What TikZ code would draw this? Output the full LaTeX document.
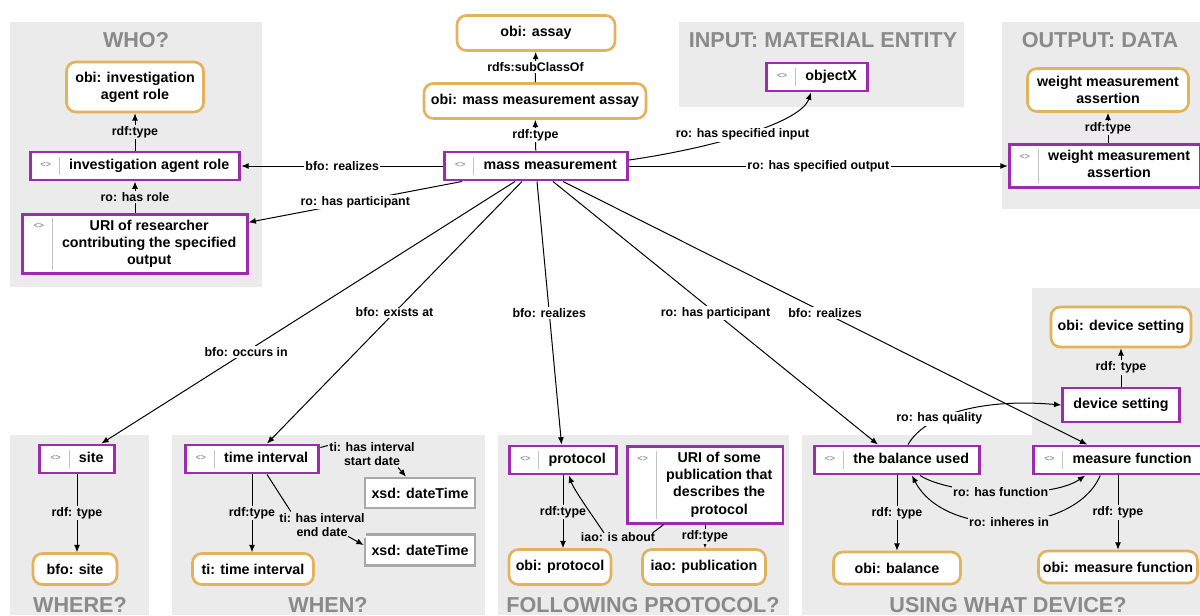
\documentclass[tikz,border=0pt]{standalone}
\usepackage{fontspec}
\setmainfont{Liberation Sans}
\usetikzlibrary{arrows.meta,calc}

\definecolor{instc}{HTML}{9C2BB0}
\definecolor{clsc}{HTML}{E2B25C}
\definecolor{litc}{HTML}{A8A8A8}
\definecolor{panelc}{HTML}{EBEBEB}
\definecolor{titlec}{HTML}{8A8A8A}
\definecolor{iconc}{HTML}{9A9A9A}
\definecolor{sepc}{HTML}{C4C4C4}

\newcommand{\bxfont}{\fontsize{10.7}{12.8}\selectfont\bfseries}
\newcommand{\lbfont}{\fontsize{9.3}{11}\selectfont\bfseries}
\newcommand{\hdfont}{\fontsize{16.2}{18}\selectfont\bfseries}
% icon, separator and text of an instance box
\newcommand{\instlabel}[1]{{\color{iconc}\fontsize{6.5}{6.5}\selectfont\raisebox{1.2pt}{<>}}\hspace{6pt}{\color{sepc}\vrule width 0.7pt}\hspace{7pt}\begin{tabular}[t]{@{}c@{}}#1\end{tabular}}

\tikzset{
  inst/.style={draw=instc, line width=2.2pt, fill=white, inner xsep=8pt, inner ysep=3pt, minimum height=21pt, font=\bxfont},
  cls/.style={draw=clsc, line width=2pt, rounded corners=7pt, fill=white, align=center, inner sep=3pt, font=\bxfont},
  lit/.style={draw=litc, line width=2pt, fill=white, inner sep=3pt, font=\bxfont},
  boxsz/.style 2 args={minimum width=#1*0.75pt, minimum height=#2*0.75pt},
  lab/.style={fill=white, inner sep=1pt, font=\lbfont, align=center},
  glab/.style={lab, fill=panelc},
  ttl/.style={text=titlec, font=\hdfont, anchor=base},
  rel/.style={line width=0.75pt, -{Latex[length=5.5pt,width=4.5pt]}},
  lnk/.style={line width=0.75pt},
}

\begin{document}
\begin{tikzpicture}[x=0.75pt,y=0.75pt,yscale=-1,xscale=1]
\useasboundingbox (0,0) rectangle (1200,615);

% panels
\fill[panelc] (10,22) rectangle (262,287);
\fill[panelc] (679,22) rectangle (964,107);
\fill[panelc] (1002,22) rectangle (1200,209);
\fill[panelc] (10,435) rectangle (149,615);
\fill[panelc] (172,435) rectangle (485,615);
\fill[panelc] (498,435) rectangle (789,615);
\fill[panelc] (802,435) -- (1032,435) -- (1032,288) -- (1200,288) -- (1200,615) -- (802,615) -- cycle;

% titles
\node[ttl] (twho) at (136,47) {WHO?};
\node[ttl] (tin) at (823,47) {INPUT: MATERIAL ENTITY};
\node[ttl] (tout) at (1100,47) {OUTPUT: DATA};
\node[ttl] (twhere) at (80,612) {WHERE?};
\node[ttl] (twhen) at (328,612) {WHEN?};
\node[ttl] (tproto) at (643,612) {FOLLOWING PROTOCOL?};
\node[ttl] (tdev) at (1008,612) {USING WHAT DEVICE?};

% centre
\node[cls, boxsz={158}{35}] (assay) at (536,33) {obi: assay};
\node[cls, boxsz={222}{35}] (mma) at (535,101) {obi: mass measurement assay};
\node[inst] (mm) at (536,166) {\instlabel{mass measurement}};
\node[inst] (objx) at (817,77) {\instlabel{objectX}};
\node[cls, boxsz={161}{43}] (wmacls) at (1108,90) {weight measurement\\assertion};
\node[inst, boxsz={185}{41}] (wma) at (1105,166) {\instlabel{weight measurement\\assertion}};

% who
\node[cls, boxsz={137}{50}] (iarcls) at (135,87) {obi: investigation\\agent role};
\node[inst] (iar) at (135,166) {\instlabel{investigation agent role}};
\node[inst] (res) at (135,244) {\instlabel{URI of researcher\\contributing the specified\\output}};

% where, when
\node[inst] (site) at (77,459) {\instlabel{site}};
\node[cls, boxsz={84}{31}] (sitecls) at (75,569) {bfo: site};
\node[inst] (tint) at (252,459) {\instlabel{time interval}};
\node[cls, boxsz={121}{31}] (ticls) at (253,569) {ti: time interval};
\node[lit, boxsz={110}{30}] (xsd1) at (420,493) {xsd: dateTime};
\node[lit, boxsz={110}{31}] (xsd2) at (420,550) {xsd: dateTime};

% protocol
\node[inst] (proto) at (563,460) {\instlabel{protocol}};
\node[inst] (pub) at (705,485) {\instlabel{URI of some\\publication that\\describes the\\protocol}};
\node[cls, boxsz={102}{35}] (protocls) at (560,567) {obi: protocol};
\node[cls, boxsz={123}{35}] (pubcls) at (704,567) {iao: publication};

% device
\node[inst] (bal) at (897,460) {\instlabel{the balance used}};
\node[inst] (mf) at (1118,460) {\instlabel{measure function}};
\node[cls, boxsz={127}{32}] (balcls) at (897,568) {obi: balance};
\node[cls, boxsz={159}{32}] (mfcls) at (1118,567) {obi: measure function};
\node[inst, boxsz={114}{34}] (ds) at (1121,405) {device setting};
\node[cls, boxsz={140}{40}] (dscls) at (1121,327) {obi: device setting};

% links from mass measurement
\draw[rel] (mm) -- (mma) node[lab,midway] {rdf:type};
\draw[rel] (mma) -- (assay) node[lab,midway] {rdfs:subClassOf};
\draw[rel] (mm.west) -- (iar.east) node[lab,midway] {bfo: realizes};
\draw[rel] ($(mm.south west)+(19,0)$) -- (res) node[lab,midway] {ro: has participant};
\draw[rel] (mm.east) -- (wma.west) node[lab,midway] {ro: has specified output};
\draw[rel] ($(mm.east)+(0,-6)$) .. controls (700,150) and (800,125) .. ($(objx.south)+(-6,0)$) node[lab,pos=0.5] {ro: has specified input};
\draw[rel] ($(mm.south)+(-21,0)$) -- (site) node[lab,pos=0.65] {bfo: occurs in};
\draw[rel] ($(mm.south)+(-14,0)$) -- (tint) node[lab,pos=0.5] {bfo: exists at};
\draw[rel] ($(mm.south)+(1,0)$) -- (proto) node[lab,pos=0.5] {bfo: realizes};
\draw[rel] ($(mm.south)+(17,0)$) -- (bal) node[lab,pos=0.5] {ro: has participant};
\draw[rel] ($(mm.south)+(27,0)$) -- (mf) node[lab,pos=0.5] {bfo: realizes};

% who, output
\draw[rel] (iar) -- (iarcls) node[glab,midway] {rdf:type};
\draw[rel] (res) -- (iar) node[glab,midway] {ro: has role};
\draw[rel] (wma.north -| wmacls) -- (wmacls) node[glab,midway] {rdf:type};

% where, when
\draw[rel] (site.south) -- (site.south |- sitecls.north) node[glab,midway] {rdf: type};
\draw[rel] (tint.south) -- (tint.south |- ticls.north) node[glab,midway] {rdf:type};
\node[glab] (tsd) at (372,454) {ti: has interval\\start date};
\draw[lnk] ($(tint.north east)+(0,4)$) -- ($(tsd.north west)+(0,5)$);
\draw[rel] ($(tsd.south)+(26,0)$) -- ($(xsd1.north)+(-14,0)$);
\node[glab] (ted) at (322,525) {ti: has interval\\end date};
\draw[lnk] ($(tint.south)+(15,0)$) -- ($(ted.north west)+(13,0)$);
\draw[rel] ($(ted.south east)+(-18,-2)$) -- ($(xsd2.west)+(0,-5)$);

% protocol
\draw[rel] (proto.south) -- (proto.south |- protocls.north) node[glab,midway] {rdf:type};
\draw[rel] (pub.south) -- (pub.south |- pubcls.north) node[glab,midway] {rdf:type};
\node[glab] (about) at (618,537) {iao: is about};
\draw[lnk] ($(pub.south west)+(38,0)$) -- ($(about.north east)+(-4,2)$);
\draw[rel] ($(about.north)+(-14,2)$) .. controls (592,515) and (574,490) .. ($(proto.south)+(6,0)$);

% device
\draw[rel] (ds) -- (dscls) node[glab,midway] {rdf: type};
\draw[rel] (bal) -- (balcls) node[glab,midway] {rdf: type};
\draw[rel] (mf.south) -- (mf.south |- mfcls.north) node[glab,midway] {rdf: type};
\draw[rel] ($(bal.north)+(11,0)$) .. controls (925,415) and (980,398) .. (ds.west) node[lab,pos=0.35] {ro: has quality};
\draw[rel] ($(bal.south)+(23,0)$) .. controls (950,495) and (1050,500) .. ($(mf.south west)+(53,0)$) node[glab,pos=0.5] {ro: has function};
\draw[rel] ($(mf.south west)+(68,0)$) .. controls (1075,535) and (945,540) .. ($(bal.south)+(15,0)$) node[glab,pos=0.5] {ro: inheres in};

\end{tikzpicture}
\end{document}
